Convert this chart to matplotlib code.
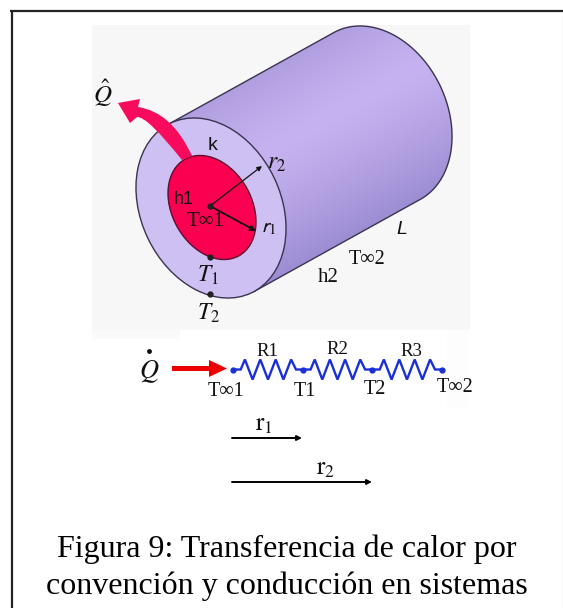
import numpy as np
import matplotlib
matplotlib.use("Agg")
import matplotlib.pyplot as plt
from matplotlib.patches import Ellipse, Polygon, PathPatch, Rectangle
from matplotlib.path import Path

plt.rcParams["mathtext.fontset"] = "stix"
SERIF = "Liberation Serif"
SANS = "Liberation Sans"

# cylinder
outer_c = (211, 208)
far_c = (377, 116)
outer_ell = (188, 140, 64.5)
inner_c = (212, 207.5)
inner_ell = (110.6, 79.6, 60.8)

# pink heat arrow
heat_x = [182, 147, 137, 130, 118, 140, 138, 172, 192]
heat_y = [160, 116, 117, 123, 103, 99, 107, 112, 156]

# network
node_x = [233, 303, 372, 442]
net_y = 369.5
zig_frac = [0, 0.11, 0.17, 0.28, 0.39, 0.5, 0.61, 0.72, 0.83, 0.9, 1]
zig_off = [0, 0, -10, 10, -10, 10, -10, 10, -10, 0, 0]

r_labels = ["R1", "R2", "R3"]
r_label_x = [267, 337, 411]
r_label_y = [351, 349, 351]
t_labels = ["T∞1", "T1", "T2", "T∞2"]
t_label_x = [226, 305, 375, 455]
t_label_y = [392, 391, 389, 387]

caption = ["Figura 9: Transferencia de calor por", "convención y conducción en sistemas"]
caption_y = [549, 586]

fig = plt.figure(figsize=(5.63, 6.08), dpi=100)
ax = fig.add_axes([0, 0, 1, 1])
ax.set_xlim(0, 563)
ax.set_ylim(608, 0)
ax.axis("off")

# page frame, heavy on top and left, thin on the right
ax.plot([12, 12], [608, 11], color="#222222", lw=1.6, solid_capstyle="butt", zorder=1)
ax.plot([10, 563], [11, 11], color="#222222", lw=1.6, solid_capstyle="butt", zorder=1)
ax.plot([562.5, 562.5], [11, 608], color="#999999", lw=0.8, zorder=1)

ax.add_patch(Rectangle((92, 25), 378, 305, fc="#f7f7f7", ec="none", zorder=1))
ax.add_patch(Rectangle((92, 330), 88, 9, fc="#fafafa", ec="none", zorder=1))
ax.add_patch(Rectangle((447, 330), 21, 78, fc="#fdfdfd", ec="none", zorder=1))

# cylinder body, shaded across its axis
t = np.linspace(0, 2 * np.pi, 200, endpoint=False)
a, b, ang = outer_ell[0] / 2, outer_ell[1] / 2, np.radians(outer_ell[2])
ex = a * np.cos(t) * np.cos(ang) - b * np.sin(t) * np.sin(ang)
ey = a * np.cos(t) * np.sin(ang) + b * np.sin(t) * np.cos(ang)

# outline: outer half of the back ellipse plus the two tangent edges
nx, ny = 92 / 190.0, 166 / 190.0
u = ex * nx + ey * ny
top = int(np.argmin(u))
bot = int(np.argmax(u))
arc = (top + np.arange((bot - top) % 200 + 1)) % 200
if (ex[arc] * 166 - ey[arc] * 92).mean() < 0:
    arc = (top - np.arange((top - bot) % 200 + 1)) % 200
far_side = np.column_stack([far_c[0] + ex[arc], far_c[1] + ey[arc]])
body = np.vstack([far_side, [outer_c[0] + ex[bot], outer_c[1] + ey[bot]],
                  [outer_c[0] + ex[top], outer_c[1] + ey[top]]])

gx, gy = np.meshgrid(np.arange(92, 470), np.arange(20, 310))
uu = ((gx - far_c[0]) * nx + (gy - far_c[1]) * ny) / u.max()
shade = np.clip(np.abs(uu + 0.25) / 1.25, 0, 1)[..., None] ** 1.3
light = np.array([198, 178, 240]) / 255
dark = np.array([156, 140, 210]) / 255
im = ax.imshow(light * (1 - shade) + dark * shade, extent=(92, 470, 310, 20),
               aspect="auto", zorder=2, interpolation="bilinear")
ax.set_xlim(0, 563)
ax.set_ylim(608, 0)
body_patch = Polygon(body, closed=True, fc="none", ec="#3a3450", lw=1.0, zorder=3)
ax.add_patch(body_patch)
im.set_clip_path(body_patch)

ax.add_patch(Ellipse(outer_c, outer_ell[0], outer_ell[1], angle=outer_ell[2],
                     fc="#cfc0f3", ec="#3a3450", lw=1.0, zorder=4))
ax.add_patch(Ellipse(inner_c, inner_ell[0], inner_ell[1], angle=inner_ell[2],
                     fc="#fb0050", ec="#5a1030", lw=1.0, zorder=5))

heat = Path(np.column_stack([heat_x, heat_y]),
            [Path.MOVETO, Path.CURVE3, Path.CURVE3, Path.LINETO, Path.LINETO, Path.LINETO,
             Path.LINETO, Path.CURVE3, Path.CURVE3])
ax.add_patch(PathPatch(heat, fc="#f80a5c", ec="none", zorder=6))


def arrow(x0, y0, x1, y1, lw=1.0, ms=8, color="#111111", z=7):
    ax.annotate("", xy=(x1, y1), xytext=(x0, y0), zorder=z,
                arrowprops=dict(arrowstyle="-|>", lw=lw, color=color, mutation_scale=ms,
                                shrinkA=0, shrinkB=0))


arrow(210, 206, 262, 166, lw=0.9, ms=7)
arrow(210, 206, 256, 231, lw=1.3, ms=8)
ax.plot([210, 210, 210], [206, 257, 294], "o", color="#222222", ms=3.5, zorder=8)


def label(x, y, s, size=13, fam=SERIF, style="normal", color="#111111"):
    ax.text(x, y, s, ha="center", va="center", fontsize=size, family=fam, style=style,
            color=color, zorder=9)


label(103, 93, r"$\hat{Q}$", 18)
label(213, 146, "k", 14, SANS)
label(277, 163, r"$r_2$", 17)
label(184, 200, "h1", 13, SANS)
label(206, 222, "T∞1", 15)
label(268, 228, r"$\mathsf{r}_1$", 15)
label(402, 230, "L", 14, SANS, "italic")
label(367, 259, "T∞2", 14.5)
label(328, 278, "h2", 15)
label(208, 275, r"$T_1$", 17)
label(208, 313, r"$T_2$", 17)

# thermal circuit
ax.add_patch(Rectangle((172, 366), 40, 5, fc="#ee0000", ec="none", zorder=5))
ax.add_patch(Polygon([(209, 360), (227, 368.5), (209, 377)], closed=True, fc="#ee0000", ec="none", zorder=5))
label(149, 372, r"$Q$", 19)
ax.plot([149], [351], "o", color="#111111", ms=2.5)

for x0, x1 in zip(node_x[:-1], node_x[1:]):
    ax.plot(x0 + np.array(zig_frac) * (x1 - x0), net_y + np.array(zig_off),
            color="#1a2fd6", lw=1.7, solid_joinstyle="miter", zorder=6)
ax.plot(node_x, [net_y] * 4, "o", color="#1a2fd6", ms=3.5, zorder=7)

for s, x, y in zip(r_labels, r_label_x, r_label_y):
    label(x, y, s, 13.5)
for s, x, y in zip(t_labels, t_label_x, t_label_y):
    label(x, y, s, 14.5)

arrow(232, 438, 302, 438, lw=1.4, ms=7, color="black")
arrow(232, 482, 372, 482, lw=1.4, ms=7, color="black")
label(264, 425, r"$\mathrm{r}_1$", 18)
label(326, 469, r"$\mathrm{r}_2$", 18)

for s, y in zip(caption, caption_y):
    ax.text(287, y, s, ha="center", va="center", fontsize=23, family=SERIF, color="black", zorder=9)

fig.savefig("out.png", dpi=100)
